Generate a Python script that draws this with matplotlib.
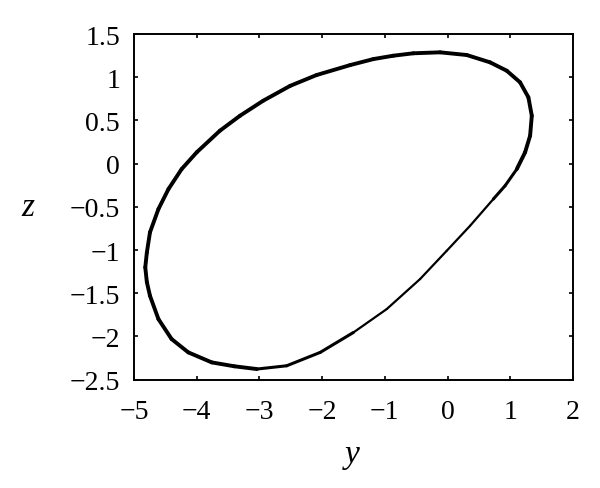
import numpy as np
import matplotlib
matplotlib.use("Agg")
import matplotlib.pyplot as plt
from matplotlib.collections import LineCollection

# limit cycle in the (y, z) plane
# (starts on the lower right branch and runs counterclockwise)
y_vals = [0.73, 0.917, 1.104, 1.236, 1.316, 1.343, 1.289, 1.156, 0.944, 0.678,
          0.306, -0.12, -0.545, -0.864, -1.183, -1.555, -2.09, -2.51, -2.94,
          -3.31, -3.63, -4.0, -4.24, -4.45, -4.61, -4.745, -4.795, -4.82, -4.795,
          -4.745, -4.61, -4.40, -4.134, -3.76, -3.40, -3.04, -2.565, -2.03,
          -1.50, -0.97, -0.439, -0.013, 0.359, 0.73]
z_vals = [-0.41, -0.256, -0.063, 0.131, 0.323, 0.554, 0.767, 0.941, 1.075, 1.172,
          1.257, 1.288, 1.277, 1.249, 1.21, 1.14, 1.025, 0.90, 0.728,
          0.554, 0.381, 0.131, -0.063, -0.294, -0.525, -0.795, -1.03, -1.2, -1.37,
          -1.529, -1.799, -2.03, -2.184, -2.30, -2.345, -2.377, -2.339, -2.184,
          -1.953, -1.683, -1.336, -1.008, -0.719, -0.41]

x_ticks = [-5, -4, -3, -2, -1, 0, 1, 2]
y_ticks = [-2.5, -2, -1.5, -1, -0.5, 0, 0.5, 1, 1.5]
y_ticklabels = ["\u22122.5", "\u22122", "\u22121.5", "\u22121", "\u22120.5", "0", "0.5", "1", "1.5"]

plt.rcParams['font.family'] = ['Liberation Serif', 'DejaVu Serif']
plt.rcParams['font.size'] = 20

fig = plt.figure(figsize=(6, 4.89), dpi=100)
ax = fig.add_axes([0.2233, 0.2215, 0.7317, 0.7069])

pts = np.column_stack([y_vals, z_vals])
segs = np.stack([pts[:-1], pts[1:]], axis=1)
# the trace is heavy over most of the loop and thins on the lower right branch
n_seg = len(segs)
widths = np.full(n_seg, 2.8)
widths[:2] = 2.2
widths[35:38] = 2.2
widths[38:] = 1.6
lc = LineCollection(segs, colors='black', linewidths=widths, capstyle='round',
                    joinstyle='round')
ax.add_collection(lc)

ax.set_xlim(-5, 2)
ax.set_ylim(-2.5, 1.5)
ax.set_xticks(x_ticks)
ax.set_yticks(y_ticks)
ax.set_yticklabels(y_ticklabels)
ax.tick_params(direction='in', length=3, width=1.2, top=True, right=True)
ax.tick_params(axis='x', pad=14)
ax.tick_params(axis='y', pad=10)
for s in ax.spines.values():
    s.set_linewidth(1.4)

ax.set_xlabel('y', fontsize=24, style='italic', va='center')
ax.set_ylabel('z', fontsize=24, style='italic', rotation=0, ha='center', va='center')
ax.xaxis.set_label_coords(0.497, -0.215)
ax.yaxis.set_label_coords(-0.242, 0.50)

fig.savefig('out.png', dpi=100)
